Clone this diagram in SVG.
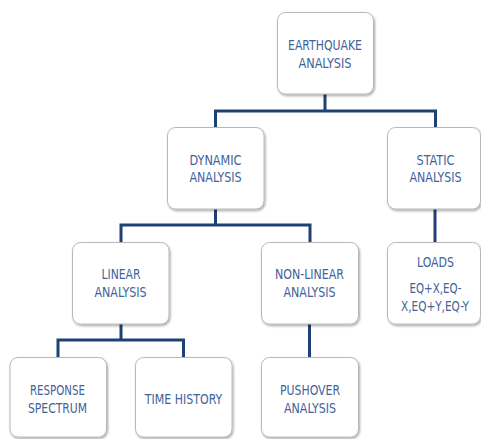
<svg xmlns="http://www.w3.org/2000/svg" width="481" height="439" viewBox="0 0 481 439">
<defs>
<filter id="sh" x="-10%" y="-10%" width="125%" height="125%">
<feDropShadow dx="1" dy="1.5" stdDeviation="1" flood-color="#000" flood-opacity="0.35"/>
</filter>
<style>
.box{fill:#fff;stroke:#b8b8b8;stroke-width:1;filter:url(#sh)}
.t{font-family:"Liberation Sans Narrow","DejaVu Sans Condensed","Liberation Sans",Arial,sans-serif;font-size:13.5px;fill:#41629a;text-anchor:middle}
.c{fill:none;stroke:#1f4173;stroke-width:3;stroke-linejoin:miter}
</style>
</defs>
<rect width="481" height="439" fill="#fff"/>
<g id="connectors">
<path class="c" d="M325 94V111M215.5 127V111H435.5V127"/>
<path class="c" d="M215.5 209V225M121 242V225H310V242"/>
<path class="c" d="M435 209V242"/>
<path class="c" d="M121 324V340M58 357V340H183.5V357"/>
<path class="c" d="M309.5 324V357"/>
</g>
<g id="earthquake">
<rect class="box" x="277.5" y="12.5" width="96" height="81.5" rx="8"/>
<text class="t" x="325" y="50" textLength="74" lengthAdjust="spacingAndGlyphs">EARTHQUAKE</text>
<text class="t" x="325" y="67.5" textLength="53" lengthAdjust="spacingAndGlyphs">ANALYSIS</text>
</g>
<g id="dynamic">
<rect class="box" x="167.5" y="127.5" width="96.5" height="81.5" rx="8"/>
<text class="t" x="215.5" y="164.5" textLength="52" lengthAdjust="spacingAndGlyphs">DYNAMIC</text>
<text class="t" x="215.5" y="182" textLength="52" lengthAdjust="spacingAndGlyphs">ANALYSIS</text>
</g>
<g id="static">
<rect class="box" x="387.5" y="127.5" width="93" height="81.5" rx="8"/>
<text class="t" x="435.5" y="164.5" textLength="38" lengthAdjust="spacingAndGlyphs">STATIC</text>
<text class="t" x="435.5" y="182" textLength="52" lengthAdjust="spacingAndGlyphs">ANALYSIS</text>
</g>
<g id="linear">
<rect class="box" x="72.5" y="242.5" width="96.5" height="81.5" rx="8"/>
<text class="t" x="121" y="279" textLength="39" lengthAdjust="spacingAndGlyphs">LINEAR</text>
<text class="t" x="120.5" y="296.5" textLength="52" lengthAdjust="spacingAndGlyphs">ANALYSIS</text>
</g>
<g id="nonlinear">
<rect class="box" x="261.5" y="242.5" width="97" height="81.5" rx="8"/>
<text class="t" x="309.5" y="279" textLength="69" lengthAdjust="spacingAndGlyphs">NON-LINEAR</text>
<text class="t" x="309.5" y="296.5" textLength="52" lengthAdjust="spacingAndGlyphs">ANALYSIS</text>
</g>
<g id="loads">
<rect class="box" x="387.5" y="242.5" width="93" height="81.5" rx="8"/>
<text class="t" x="435.5" y="267" textLength="37" lengthAdjust="spacingAndGlyphs">LOADS</text>
<text class="t" x="435.5" y="293" textLength="52" lengthAdjust="spacingAndGlyphs">EQ+X,EQ-</text>
<text class="t" x="435" y="311" textLength="68" lengthAdjust="spacingAndGlyphs">X,EQ+Y,EQ-Y</text>
</g>
<g id="response">
<rect class="box" x="10" y="357.5" width="96.5" height="79.5" rx="8"/>
<text class="t" x="57.5" y="395" textLength="55" lengthAdjust="spacingAndGlyphs">RESPONSE</text>
<text class="t" x="57.5" y="412.5" textLength="59" lengthAdjust="spacingAndGlyphs">SPECTRUM</text>
</g>
<g id="timehistory">
<rect class="box" x="135.5" y="357.5" width="96.5" height="79.5" rx="8"/>
<text class="t" x="183.5" y="403.5" textLength="77.5" lengthAdjust="spacingAndGlyphs">TIME HISTORY</text>
</g>
<g id="pushover">
<rect class="box" x="261.5" y="357.5" width="97" height="79.5" rx="8"/>
<text class="t" x="310" y="395" textLength="60" lengthAdjust="spacingAndGlyphs">PUSHOVER</text>
<text class="t" x="310" y="412.5" textLength="52" lengthAdjust="spacingAndGlyphs">ANALYSIS</text>
</g>
</svg>
